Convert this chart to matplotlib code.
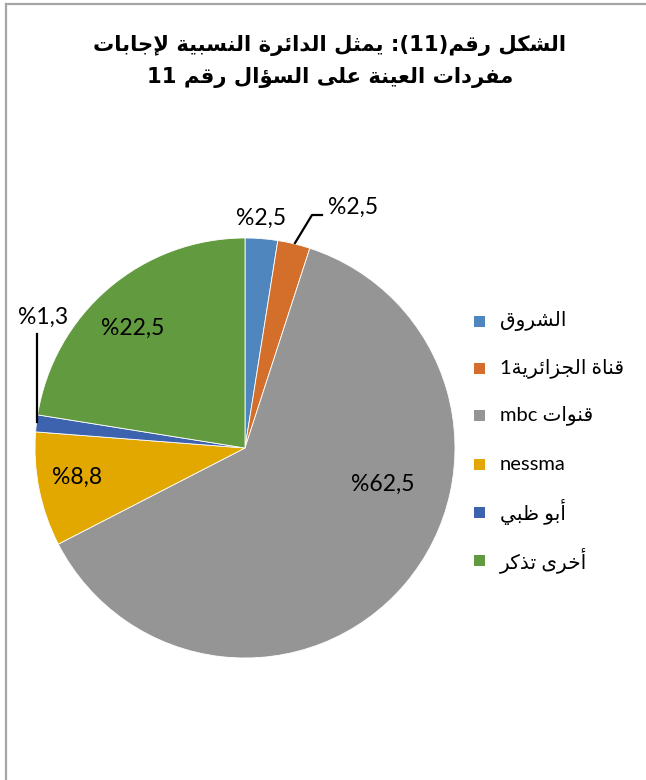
import re
import matplotlib
matplotlib.use("Agg")
import matplotlib.pyplot as plt
from matplotlib.patches import Rectangle
from matplotlib.lines import Line2D

# ---------------- data ----------------
categories = ["الشروق", "قناة الجزائرية1", "قنوات mbc", "nessma", "أبو ظبي", "أخرى تذكر"]
values = [2.5, 2.5, 62.5, 8.8, 1.3, 22.5]
colors = ["#4E86BD", "#D36F2B", "#959595", "#E2A800", "#3D63AE", "#629A3F"]
title_lines = ["الشكل رقم(11): يمثل الدائرة النسبية لإجابات",
               "مفردات العينة على السؤال رقم 11"]

# ---------------- minimal Arabic shaping + RTL ordering ----------------
FORMS = {  # isolated, final, initial, medial
    '\u0621': (0xFE80,),
    '\u0622': (0xFE81, 0xFE82), '\u0623': (0xFE83, 0xFE84), '\u0624': (0xFE85, 0xFE86),
    '\u0625': (0xFE87, 0xFE88), '\u0626': (0xFE89, 0xFE8A, 0xFE8B, 0xFE8C),
    '\u0627': (0xFE8D, 0xFE8E), '\u0628': (0xFE8F, 0xFE90, 0xFE91, 0xFE92),
    '\u0629': (0xFE93, 0xFE94), '\u062A': (0xFE95, 0xFE96, 0xFE97, 0xFE98),
    '\u062B': (0xFE99, 0xFE9A, 0xFE9B, 0xFE9C), '\u062C': (0xFE9D, 0xFE9E, 0xFE9F, 0xFEA0),
    '\u062D': (0xFEA1, 0xFEA2, 0xFEA3, 0xFEA4), '\u062E': (0xFEA5, 0xFEA6, 0xFEA7, 0xFEA8),
    '\u062F': (0xFEA9, 0xFEAA), '\u0630': (0xFEAB, 0xFEAC), '\u0631': (0xFEAD, 0xFEAE),
    '\u0632': (0xFEAF, 0xFEB0), '\u0633': (0xFEB1, 0xFEB2, 0xFEB3, 0xFEB4),
    '\u0634': (0xFEB5, 0xFEB6, 0xFEB7, 0xFEB8), '\u0635': (0xFEB9, 0xFEBA, 0xFEBB, 0xFEBC),
    '\u0636': (0xFEBD, 0xFEBE, 0xFEBF, 0xFEC0), '\u0637': (0xFEC1, 0xFEC2, 0xFEC3, 0xFEC4),
    '\u0638': (0xFEC5, 0xFEC6, 0xFEC7, 0xFEC8), '\u0639': (0xFEC9, 0xFECA, 0xFECB, 0xFECC),
    '\u063A': (0xFECD, 0xFECE, 0xFECF, 0xFED0), '\u0641': (0xFED1, 0xFED2, 0xFED3, 0xFED4),
    '\u0642': (0xFED5, 0xFED6, 0xFED7, 0xFED8), '\u0643': (0xFED9, 0xFEDA, 0xFEDB, 0xFEDC),
    '\u0644': (0xFEDD, 0xFEDE, 0xFEDF, 0xFEE0), '\u0645': (0xFEE1, 0xFEE2, 0xFEE3, 0xFEE4),
    '\u0646': (0xFEE5, 0xFEE6, 0xFEE7, 0xFEE8), '\u0647': (0xFEE9, 0xFEEA, 0xFEEB, 0xFEEC),
    '\u0648': (0xFEED, 0xFEEE), '\u0649': (0xFEEF, 0xFEF0),
    '\u064A': (0xFEF1, 0xFEF2, 0xFEF3, 0xFEF4),
}
LAM_ALEF = {'\u0622': (0xFEF5, 0xFEF6), '\u0623': (0xFEF7, 0xFEF8),
            '\u0625': (0xFEF9, 0xFEFA), '\u0627': (0xFEFB, 0xFEFC)}


def shape_word(w):
    chars = []
    i = 0
    while i < len(w):
        if w[i] == '\u0644' and i + 1 < len(w) and w[i + 1] in LAM_ALEF:
            chars.append(('LA', w[i + 1]))
            i += 2
        else:
            chars.append(('C', w[i]))
            i += 1

    def dual(c):
        return c[0] == 'C' and c[1] in FORMS and len(FORMS[c[1]]) == 4

    def joining(c):
        return c[0] == 'LA' or (c[1] in FORMS and len(FORMS[c[1]]) >= 2)

    out = []
    for k, c in enumerate(chars):
        prev_c = chars[k - 1] if k > 0 else None
        next_c = chars[k + 1] if k + 1 < len(chars) else None
        jp = prev_c is not None and dual(prev_c) and joining(c)
        jn = next_c is not None and dual(c) and joining(next_c)
        if c[0] == 'LA':
            f = LAM_ALEF[c[1]]
            out.append(chr(f[1] if jp else f[0]))
            continue
        ch = c[1]
        if ch not in FORMS:
            out.append(ch)
            continue
        f = FORMS[ch]
        if len(f) == 1:
            out.append(chr(f[0]))
        elif jp and jn:
            out.append(chr(f[3]))
        elif jn:
            out.append(chr(f[2]))
        elif jp:
            out.append(chr(f[1]))
        else:
            out.append(chr(f[0]))
    return ''.join(reversed(out))


MIRROR = {'(': ')', ')': '('}


def rtl(s):
    if not re.search('[\u0600-\u06FF]', s):
        return s
    tokens = re.findall('[\u0600-\u06FF]+|[A-Za-z0-9]+|.', s)
    vis = []
    for t in reversed(tokens):
        if re.match('[\u0600-\u06FF]', t):
            vis.append(shape_word(t))
        else:
            vis.append(MIRROR.get(t, t))
    return ''.join(vis)


def pct(v):
    return "%" + f"{v:.1f}".replace('.', ',')


# ---------------- figure ----------------
W, H = 646, 780
fig = plt.figure(figsize=(W / 100, H / 100), dpi=100)
fig.patch.set_facecolor("white")

# chart frame (left and top edges visible)
fig.add_artist(Line2D([6 / W, 6 / W], [0, 1 - 4 / H], color="#A6A6A6", lw=1.6))
fig.add_artist(Line2D([6 / W, 1], [1 - 4 / H, 1 - 4 / H], color="#A6A6A6", lw=1.6))

# pie axes: centre (245,448) px, radius 210 px
cx, cy, R = 245, 448, 210
ax = fig.add_axes([(cx - R) / W, (H - cy - R) / H, 2 * R / W, 2 * R / H])
wedges, _ = ax.pie(values, colors=colors, startangle=90, counterclock=False,
                   wedgeprops=dict(edgecolor="white", linewidth=0.6))
ax.set_xlim(-1, 1)
ax.set_ylim(-1, 1)
ax.set_aspect("equal")
ax.axis("off")


def px(x, y):
    return ((x - cx) / R, (cy - y) / R)


lab_font = dict(family=["Lato", "DejaVu Sans"], fontsize=16.5, color="black",
                ha="center", va="center")
label_pos = [(261, 218), (353, 207), (383, 484), (77, 477), (43, 317), (133, 328)]
for v, (lx, ly) in zip(values, label_pos):
    ax.text(*px(lx, ly), pct(v), clip_on=False, **lab_font)

# leader lines
l1 = [px(295, 243), px(312, 215), px(322, 215)]
ax.add_line(Line2D([p[0] for p in l1], [p[1] for p in l1], color="black", lw=1.6,
                   clip_on=False))
l2 = [px(37, 422), px(37, 334)]
ax.add_line(Line2D([p[0] for p in l2], [p[1] for p in l2], color="black", lw=1.6,
                   clip_on=False))

# title
for line, y in zip(title_lines, [45, 78]):
    fig.text(330 / W, 1 - y / H, rtl(line), ha="center", va="center",
             fontsize=15.2, fontweight="bold", family=["DejaVu Sans"])

# legend
leg_y = [321, 368, 415, 464, 512, 560]
for cat, col, y in zip(categories, colors, leg_y):
    fig.add_artist(Rectangle((474 / W, 1 - (y + 5.5) / H), 11 / W, 11 / H,
                             facecolor=col, edgecolor="none",
                             transform=fig.transFigure))
    fig.text(500 / W, 1 - y / H, rtl(cat), ha="left", va="center",
             fontsize=14.5, family=["Lato", "DejaVu Sans"])

fig.savefig("out.png", dpi=100, facecolor="white")
